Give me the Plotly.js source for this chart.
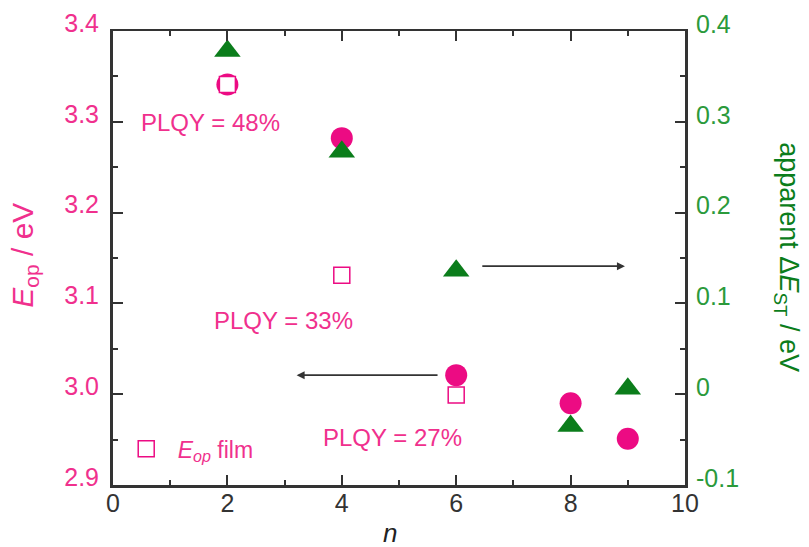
<!DOCTYPE html>
<html><head><meta charset="utf-8">
<script src="https://cdn.plot.ly/plotly-3.0.1.min.js"></script>
<style>html,body{margin:0;padding:0;background:#fff}</style>
</head><body><div id="chart" style="width:809px;height:547px"></div>
<script>
const nSolution = [2, 4, 6, 8, 9];
const eopSolution = [3.341, 3.282, 3.021, 2.99, 2.951];
const nFilm = [2, 4, 6];
const eopFilm = [3.341, 3.131, 2.999];
const nST = [2, 4, 6, 8, 9];
const deltaEST = [0.378, 0.267, 0.136, -0.035, 0.006];
const xTickVals = [0, 2, 4, 6, 8, 10];
const leftTickVals = [3.4, 3.3, 3.2, 3.1, 3.0, 2.9];
const leftTickText = ['3.4', '3.3', '3.2', '3.1', '3.0', '2.9'];
const rightTickVals = [0.4, 0.3, 0.2, 0.1, 0, -0.1];
const rightTickText = ['0.4', '0.3', '0.2', '0.1', '0', '-0.1'];
const plqyText = ['PLQY = 48%', 'PLQY = 33%', 'PLQY = 27%'];
const plqyX = [1.71, 2.98, 4.88];
const plqyY = [3.299, 3.081, 2.952];
const arrowLeft = {from: [5.70, 3.021], to: [3.21, 3.021]};
const arrowRight = {from: [6.43, 0.141], to: [8.95, 0.141]};

const PINK = '#ec0b83';
const PINKTXT = '#f0308d';
const GREEN = '#0b7d1b';
const GREENTXT = '#2b9a3b';
const AXC = '#333333';
const FONT = 'Liberation Sans, Arial, sans-serif';

const traces = [
  {x: nSolution, y: eopSolution, type: 'scatter', mode: 'markers', showlegend: false,
   marker: {symbol: 'circle', size: 22, color: PINK}},
  {x: nFilm, y: eopFilm, type: 'scatter', mode: 'markers', name: '<i>E</i><sub><i>op</i></sub> film',
   marker: {symbol: 'square', size: 16, color: '#ffffff', line: {color: PINK, width: 1.5}}},
  {x: nST, y: deltaEST, type: 'scatter', mode: 'markers', yaxis: 'y2', showlegend: false,
   marker: {symbol: 'triangle-up', size: 23, color: GREEN}}
];

const annotations = plqyText.map((t, i) => ({
  x: plqyX[i], y: plqyY[i], xref: 'x', yref: 'y', text: t, showarrow: false,
  font: {family: FONT, size: 24, color: PINKTXT}
}));
annotations.push({
  x: arrowLeft.to[0], y: arrowLeft.to[1], ax: arrowLeft.from[0], ay: arrowLeft.from[1],
  xref: 'x', yref: 'y', axref: 'x', ayref: 'y', text: '', showarrow: true,
  arrowhead: 2, arrowsize: 1, arrowwidth: 1.6, arrowcolor: AXC
});
annotations.push({
  x: arrowRight.to[0], y: arrowRight.to[1], ax: arrowRight.from[0], ay: arrowRight.from[1],
  xref: 'x', yref: 'y2', axref: 'x', ayref: 'y2', text: '', showarrow: true,
  arrowhead: 2, arrowsize: 1, arrowwidth: 1.6, arrowcolor: AXC
});
annotations.push({
  x: -0.154, y: 0.507, xref: 'paper', yref: 'paper', textangle: -90, showarrow: false,
  xanchor: 'center', yanchor: 'middle',
  text: '<i>E</i><sub>op</sub> / eV', font: {family: FONT, size: 30, color: PINKTXT}
});
annotations.push({
  x: 1.178, y: 0.502, xref: 'paper', yref: 'paper', textangle: 90, showarrow: false,
  xanchor: 'center', yanchor: 'middle',
  text: 'apparent Δ<i>E</i><sub>ST</sub> / eV', font: {family: FONT, size: 27, color: GREEN}
});
annotations.push({
  x: 0.484, y: -0.106, xref: 'paper', yref: 'paper', showarrow: false,
  xanchor: 'center', yanchor: 'middle',
  text: '<i>n</i>', font: {family: FONT, size: 26, color: '#222'}
});

const layout = {
  width: 809, height: 547,
  margin: {l: 113, r: 124, t: 31, b: 62},
  paper_bgcolor: '#ffffff', plot_bgcolor: '#ffffff',
  font: {family: FONT},
  showlegend: true,
  legend: {x: 0.003, y: 0.08, xanchor: 'left', yanchor: 'middle', bgcolor: 'rgba(0,0,0,0)',
           itemwidth: 53,
           font: {family: FONT, size: 23, color: PINKTXT}},
  xaxis: {range: [0, 10], tickvals: xTickVals, ticks: 'inside', ticklen: 10, tickwidth: 2, tickcolor: AXC,
          minor: {dtick: 1, ticks: 'inside', ticklen: 5, tickwidth: 2, tickcolor: AXC},
          showline: true, linecolor: AXC, linewidth: 2.5, mirror: 'ticks', showgrid: false, zeroline: false,
          ticklabelstandoff: -6,
          tickfont: {family: FONT, size: 25, color: '#333'}},
  yaxis: {range: [2.9, 3.4], tickvals: leftTickVals, ticktext: leftTickText, ticks: 'inside', ticklen: 10,
          tickwidth: 2, tickcolor: AXC,
          minor: {dtick: 0.05, ticks: 'inside', ticklen: 5, tickwidth: 2, tickcolor: AXC},
          showline: true, linecolor: AXC, linewidth: 3, mirror: 'ticks', showgrid: false, zeroline: false,
          ticklabelstandoff: 6, ticklabelshift: -8,
          tickfont: {family: FONT, size: 25, color: PINKTXT}},
  yaxis2: {range: [-0.1, 0.4], overlaying: 'y', side: 'right', tickvals: rightTickVals, ticktext: rightTickText,
           ticks: 'inside', ticklen: 10, tickwidth: 2, tickcolor: AXC,
           showline: false, showgrid: false, zeroline: false,
           ticklabelstandoff: 10, ticklabelshift: -7,
           tickfont: {family: FONT, size: 25, color: GREENTXT}},
  annotations: annotations
};

Plotly.newPlot('chart', traces, layout, {displayModeBar: false, staticPlot: true});
</script></body></html>
